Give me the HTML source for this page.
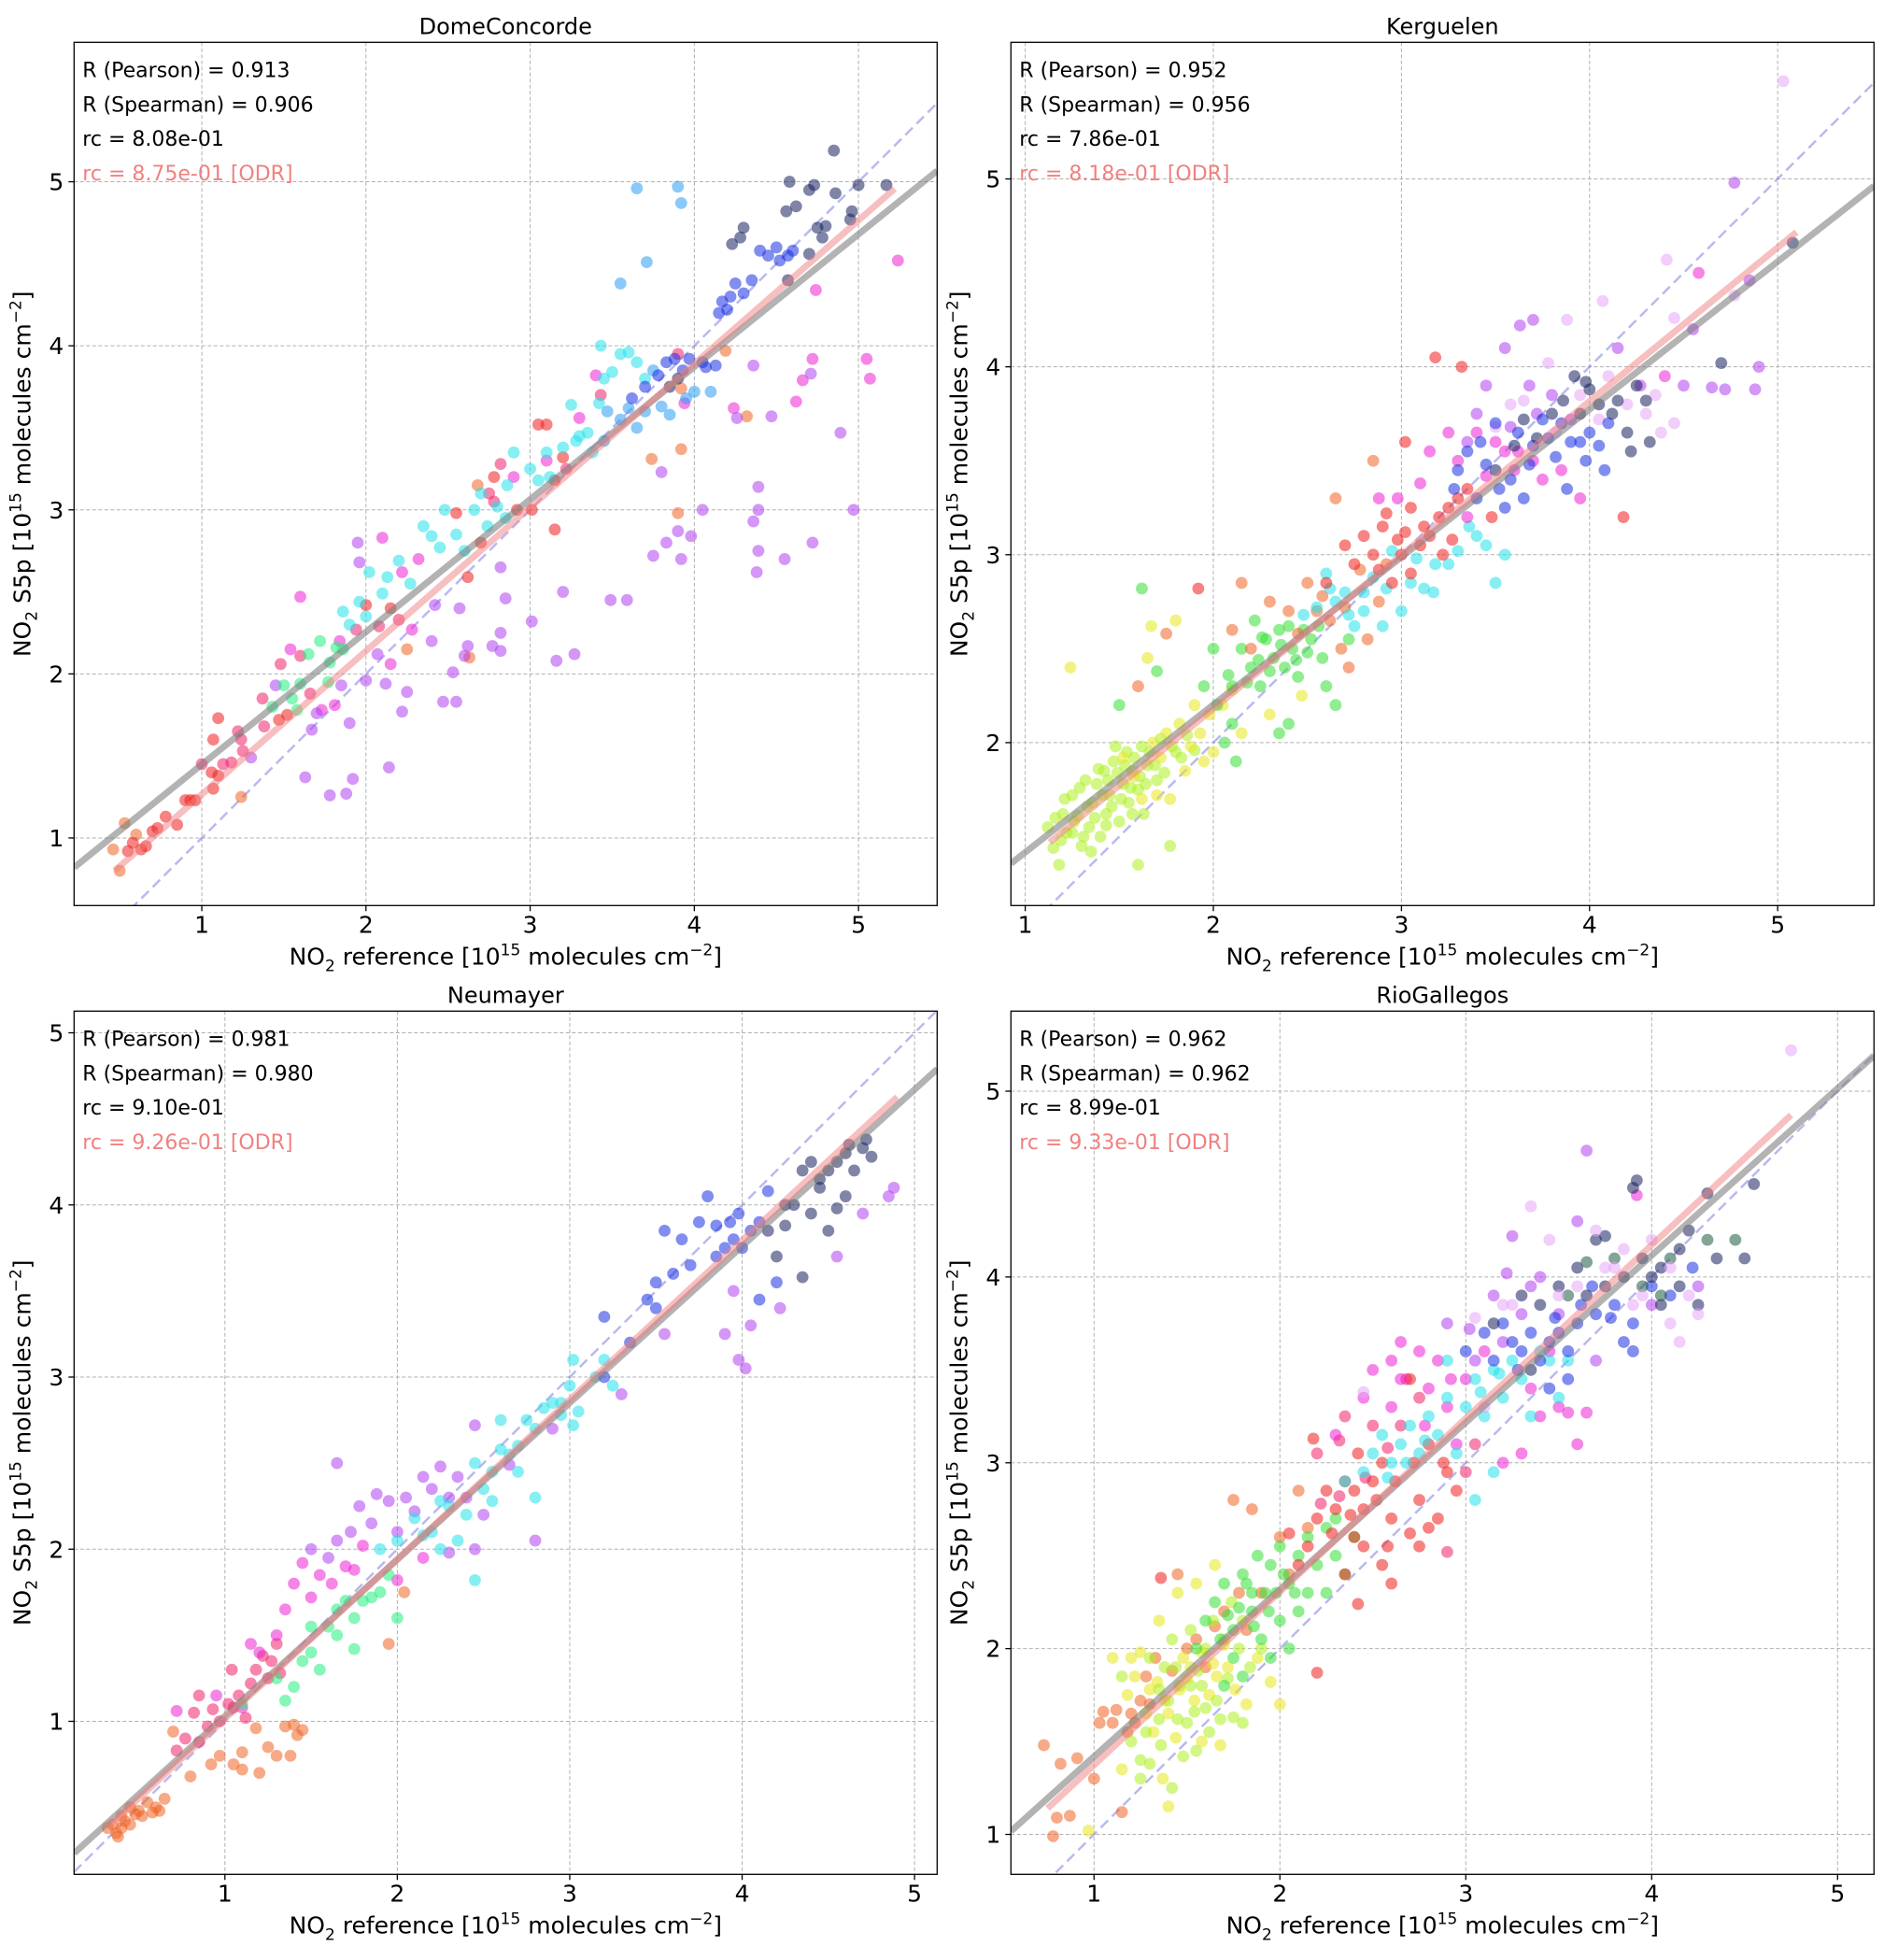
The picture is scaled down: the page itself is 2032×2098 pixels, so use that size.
<!DOCTYPE html>
<html><head><meta charset="utf-8"><title>NO2 S5p vs reference scatter</title>
<style>
html,body{margin:0;padding:0;background:#fff;}
svg{display:block;font-family:"DejaVu Sans","Liberation Sans",sans-serif;}
</style></head>
<body>
<svg id="fig" width="2032" height="2098" viewBox="0 0 2032 2098" xmlns="http://www.w3.org/2000/svg"></svg>
<script>
// ---------- Panel: DomeConcorde ----------
const dcTitle = "DomeConcorde";
const dcStats = ["R (Pearson) = 0.913","R (Spearman) = 0.906","rc = 8.08e-01","rc = 8.75e-01 [ODR]"];
const dcFit = [0.808, 0.64];
const dcOdr = [0.875, 0.39, 0.47, 5.22];
const dcOrange = [[0.46,0.93],[0.5,0.8],[0.53,1.09],[0.6,1.02],[1.24,1.25],[3.9,2.98],[3.92,3.37],[3.74,3.31],[3.92,3.74],[4.19,3.97],[4.32,3.57],[2.63,2.1],[2.25,2.15],[2.68,3.15]];
const dcRed = [[0.55,0.92],[0.58,0.97],[0.63,0.93],[0.66,0.95],[0.7,1.04],[0.73,1.06],[0.78,1.13],[0.85,1.08],[0.9,1.23],[0.93,1.23],[0.96,1.23],[1.07,1.3],[1.1,1.38],[1.06,1.4],[1.07,1.6],[1.1,1.73],[1.47,1.72],[1.52,1.75],[2.0,2.42],[2.15,2.4],[2.62,2.59],[2.55,2.98],[2.7,2.8],[2.78,3.2],[3.05,3.52],[3.1,3.52],[3.15,2.88],[3.2,3.32],[3.01,3.0],[3.15,3.18],[2.92,3.0]];
const dcCrimson = [[1.0,1.45],[1.13,1.45],[1.18,1.46],[1.22,1.65],[1.24,1.6],[1.25,1.53],[1.37,1.85],[1.38,1.68],[1.48,2.06],[1.6,2.11],[1.66,1.88],[1.94,2.27],[2.08,2.29],[2.2,2.33],[2.75,3.1],[2.78,3.05],[3.22,3.25],[3.43,3.7],[3.9,3.95],[2.82,3.28]];
const dcMagenta = [[1.6,2.47],[1.54,2.15],[1.73,1.78],[1.81,1.81],[1.84,2.2],[2.1,2.83],[2.15,2.06],[2.32,2.7],[2.22,2.62],[2.9,3.2],[3.4,3.82],[3.94,3.65],[3.1,3.3],[4.74,4.34],[5.24,4.52],[4.24,3.62],[4.62,3.66],[4.66,3.79],[4.72,3.92],[5.05,3.92],[5.07,3.8],[3.3,3.56],[2.28,2.27]];
const dcViolet = [[1.3,1.49],[1.45,1.93],[1.63,1.37],[1.67,1.66],[1.7,1.76],[1.78,1.26],[1.85,1.93],[1.9,1.7],[1.88,1.27],[1.92,1.36],[1.95,2.8],[1.96,2.68],[2.0,1.96],[2.07,2.12],[2.12,1.94],[2.14,1.43],[2.22,1.77],[2.25,1.89],[2.4,2.2],[2.42,2.42],[2.47,1.83],[2.53,2.01],[2.55,1.83],[2.57,2.4],[2.6,2.11],[2.62,2.17],[2.77,2.17],[2.82,2.14],[2.82,2.25],[2.85,2.46],[2.82,2.65],[3.01,2.32],[3.16,2.08],[3.2,2.5],[3.27,2.12],[3.49,2.45],[3.59,2.45],[3.75,2.72],[3.8,3.23],[3.83,2.8],[3.9,2.87],[3.92,2.7],[3.98,2.84],[4.05,3.0],[4.36,3.88],[4.36,2.93],[4.39,3.14],[4.39,2.75],[4.39,3.0],[4.38,2.62],[4.47,3.57],[4.55,2.7],[4.71,3.83],[4.72,2.8],[4.89,3.47],[4.97,3.0],[4.26,3.56]];
const dcGreen = [[1.5,1.93],[1.55,1.85],[1.6,1.94],[1.65,2.12],[1.72,2.2],[1.78,2.07],[1.82,2.16],[1.77,1.95],[1.43,1.8],[1.58,1.78],[1.86,2.15]];
const dcCyan = [[1.86,2.38],[1.9,2.3],[1.96,2.44],[2.0,2.35],[2.02,2.62],[2.1,2.49],[2.13,2.59],[2.2,2.69],[2.27,2.55],[2.35,2.9],[2.4,2.84],[2.45,2.77],[2.48,3.0],[2.55,2.85],[2.6,2.75],[2.66,3.0],[2.7,3.1],[2.74,2.9],[2.8,3.02],[2.86,3.15],[2.9,3.35],[3.0,3.25],[3.05,3.18],[3.1,3.35],[3.2,3.38],[3.25,3.64],[3.28,3.42],[3.3,3.45],[3.35,3.47],[3.42,3.65],[3.45,3.8],[3.5,3.84],[3.55,3.95],[3.6,3.96],[3.65,3.9],[3.43,4.0],[3.7,3.8],[2.85,2.95],[3.12,3.2],[3.38,3.35]];
const dcSky = [[3.55,4.38],[3.65,4.96],[3.71,4.51],[3.9,4.97],[3.92,4.87],[3.47,3.6],[3.55,3.55],[3.6,3.62],[3.65,3.5],[3.7,3.6],[3.75,3.85],[3.8,3.63],[3.85,3.58],[3.95,3.68],[4.0,3.72],[4.1,3.72],[3.45,3.42]];
const dcBlue = [[3.62,3.68],[3.7,3.75],[3.78,3.82],[3.83,3.9],[3.88,3.92],[3.93,3.85],[3.97,3.92],[4.05,3.9],[4.13,3.88],[4.15,4.2],[4.17,4.27],[4.2,4.22],[4.22,4.3],[4.25,4.38],[4.3,4.32],[4.35,4.4],[4.4,4.58],[4.45,4.55],[4.5,4.6],[4.52,4.52],[4.57,4.55],[4.6,4.58],[4.07,3.87]];
const dcNavy = [[3.85,3.75],[3.9,3.8],[4.23,4.62],[4.28,4.66],[4.3,4.72],[4.56,4.82],[4.58,5.0],[4.62,4.85],[4.7,4.56],[4.7,4.95],[4.73,4.98],[4.75,4.72],[4.78,4.66],[4.8,4.73],[4.86,4.93],[4.85,5.19],[4.96,4.82],[4.95,4.77],[5.0,4.98],[5.17,4.98],[4.57,4.4]];

// ---------- Panel: Kerguelen ----------
const kgTitle = "Kerguelen";
const kgStats = ["R (Pearson) = 0.952","R (Spearman) = 0.956","rc = 7.86e-01","rc = 8.18e-01 [ODR]"];
const kgFit = [0.786, 0.63];
const kgOdr = [0.818, 0.545, 1.13, 5.1];
const kgLime = [[1.12,1.55],[1.15,1.44],[1.18,1.35],[1.2,1.62],[1.22,1.52],[1.25,1.72],[1.28,1.61],[1.3,1.45],[1.32,1.8],[1.34,1.55],[1.36,1.68],[1.38,1.78],[1.4,1.5],[1.42,1.85],[1.43,1.62],[1.45,1.72],[1.47,1.9],[1.5,1.58],[1.52,1.78],[1.54,1.95],[1.55,1.68],[1.57,1.85],[1.6,1.75],[1.62,1.98],[1.63,1.62],[1.65,1.88],[1.35,1.42],[1.6,1.35],[1.77,1.45],[1.48,1.98],[1.7,1.8],[1.8,1.95]];
const kgLime2 = [[1.16,1.6],[1.21,1.7],[1.26,1.58],[1.29,1.76],[1.33,1.66],[1.37,1.6],[1.39,1.86],[1.41,1.72],[1.44,1.8],[1.46,1.66],[1.49,1.84],[1.51,1.7],[1.53,1.88],[1.56,1.76],[1.58,1.92],[1.61,1.82],[1.64,1.78],[1.66,1.95],[1.69,1.88],[1.72,2.02],[1.74,1.84],[1.78,1.98],[1.83,1.92],[1.86,2.04],[1.9,1.96],[1.25,1.52],[1.31,1.5],[1.19,1.48],[1.43,1.56],[1.57,1.62]];
const kgYellow = [[1.68,2.0],[1.72,1.92],[1.75,2.05],[1.77,1.7],[1.82,2.1],[1.85,1.85],[1.88,1.98],[1.9,2.2],[1.93,2.05],[1.95,1.9],[1.98,2.15],[2.0,1.95],[2.05,2.2],[1.24,2.4],[1.65,2.45],[1.67,2.62],[1.8,2.65],[2.15,2.05],[2.3,2.15],[2.47,2.25],[1.52,1.92],[1.58,1.82],[1.7,1.72],[1.62,1.7],[2.1,2.28]];
const kgGreen = [[2.1,2.1],[2.12,1.9],[1.62,2.82],[1.5,2.2],[1.7,2.38],[2.1,2.3],[2.15,2.5],[2.2,2.4],[2.22,2.65],[2.25,2.3],[2.28,2.55],[2.32,2.45],[2.35,2.6],[2.38,2.4],[2.42,2.5],[2.45,2.35],[2.48,2.6],[2.52,2.55],[2.58,2.45],[2.6,2.3],[2.65,2.2],[2.02,2.2],[2.06,2.0],[2.0,2.5],[2.35,2.05],[2.4,2.1],[2.72,2.55],[2.18,2.32],[2.24,2.44],[2.3,2.38],[2.36,2.52],[2.44,2.44],[2.5,2.48],[2.56,2.62],[2.08,2.36],[1.95,2.3],[2.26,2.56],[2.4,2.62]];
const kgOrange = [[1.75,2.58],[1.6,2.3],[2.3,2.75],[2.4,2.7],[2.5,2.85],[2.55,2.7],[2.62,2.65],[2.68,2.5],[2.72,2.4],[2.78,2.92],[2.82,2.55],[2.88,2.75],[2.92,2.95],[2.1,2.6],[2.15,2.85],[2.65,3.3],[2.85,3.5],[2.2,2.5],[2.45,2.58],[2.58,2.78],[2.7,2.72]];
const kgCyan = [[2.6,2.9],[2.65,2.75],[2.7,2.8],[2.75,2.62],[2.8,2.7],[2.85,2.88],[2.9,2.62],[2.8,2.8],[3.0,2.7],[3.05,2.85],[3.17,2.8],[3.25,2.95],[3.4,3.1],[3.45,3.05],[3.5,2.85],[3.55,3.0],[3.18,2.95],[3.12,2.82],[2.55,2.72],[2.62,2.82],[2.72,2.68],[2.92,2.82],[3.08,2.98],[3.3,3.02],[3.36,3.15],[2.48,2.68],[2.95,3.02]];
const kgRed = [[1.92,2.82],[2.7,3.05],[2.8,3.1],[2.85,3.0],[2.9,3.15],[2.95,2.85],[3.0,3.0],[3.02,3.12],[3.05,2.9],[3.1,3.05],[3.15,3.1],[3.2,3.2],[3.22,3.0],[3.25,3.25],[3.27,3.08],[3.3,3.3],[3.02,3.6],[3.48,3.2],[3.05,3.25],[4.18,3.2],[3.18,4.05],[3.32,4.0],[2.75,2.95],[2.88,2.92],[2.98,3.08],[3.12,3.15],[2.6,2.85],[3.35,3.35],[2.92,3.22]];
const kgMagenta = [[2.88,3.3],[2.98,3.3],[3.1,3.38],[3.35,3.2],[3.15,3.55],[3.25,3.65],[3.4,3.65],[3.6,3.45],[3.75,3.4],[3.95,3.3],[3.55,3.55],[3.45,3.42],[4.4,3.95],[4.58,4.5],[3.5,3.6],[3.7,3.5],[3.85,3.45],[3.3,3.5],[3.62,3.55]];
const kgViolet = [[3.55,4.1],[3.63,4.22],[3.7,4.25],[3.45,3.9],[3.68,3.9],[3.72,3.75],[3.8,3.85],[4.5,3.9],[4.55,4.2],[4.77,4.98],[4.85,4.46],[4.9,4.0],[4.88,3.88],[4.72,3.88],[4.65,3.89],[4.27,3.9],[4.15,4.1],[3.4,3.75],[3.58,3.68],[3.9,3.72],[3.35,3.6]];
const kgPale = [[5.03,5.52],[4.41,4.57],[4.45,4.26],[4.35,3.85],[4.3,3.75],[3.88,4.25],[3.78,4.02],[3.58,3.8],[4.45,3.7],[4.77,4.38],[4.07,4.35],[3.65,3.82],[3.95,3.85],[4.05,3.72],[4.2,3.8],[4.1,3.95],[3.82,3.65],[3.5,3.68],[4.38,3.65]];
const kgBlue = [[3.3,3.45],[3.35,3.55],[3.4,3.3],[3.42,3.6],[3.5,3.7],[3.52,3.35],[3.62,3.65],[3.65,3.3],[3.7,3.58],[3.78,3.62],[3.82,3.52],[3.85,3.7],[3.88,3.35],[3.9,3.6],[3.98,3.5],[4.0,3.65],[4.08,3.45],[4.1,3.7],[3.45,3.48],[3.58,3.4],[3.68,3.48],[3.75,3.72],[3.95,3.6],[4.05,3.58],[3.28,3.35],[3.55,3.25]];
const kgNavy = [[3.92,3.95],[3.95,3.75],[4.05,3.8],[4.15,3.82],[4.2,3.65],[4.25,3.9],[4.22,3.55],[4.32,3.6],[5.08,4.66],[4.7,4.02],[3.6,3.58],[3.72,3.62],[3.8,3.75],[3.86,3.82],[4.0,3.88],[4.12,3.75],[3.5,3.45],[3.65,3.72],[4.3,3.82],[3.98,3.92]];

// ---------- Panel: Neumayer ----------
const nmTitle = "Neumayer";
const nmStats = ["R (Pearson) = 0.981","R (Spearman) = 0.980","rc = 9.10e-01","rc = 9.26e-01 [ODR]"];
const nmFit = [0.91, 0.12];
const nmOdr = [0.926, 0.09, 0.32, 4.9];
const nmOrange = [[0.32,0.38],[0.35,0.4],[0.38,0.33],[0.4,0.38],[0.42,0.42],[0.45,0.5],[0.48,0.46],[0.5,0.48],[0.52,0.45],[0.55,0.53],[0.58,0.47],[0.6,0.5],[0.62,0.48],[0.65,0.55],[0.4,0.45],[0.45,0.4],[0.37,0.35],[0.7,0.94],[0.8,0.68],[1.1,0.82],[1.18,0.96],[1.25,0.85],[1.1,0.72],[1.2,0.7],[1.35,0.97],[1.4,0.98],[1.42,0.92],[1.3,0.8],[1.38,0.8],[1.45,0.95],[0.97,0.8],[1.05,0.75],[0.92,0.75],[1.95,1.45],[2.04,1.75]];
const nmRed = [[0.72,0.83],[0.77,0.9],[0.82,1.05],[0.85,0.88],[0.9,0.97],[0.93,1.07],[0.97,1.0],[1.02,1.1],[1.05,1.08],[1.08,1.15],[1.12,1.02],[1.15,1.22],[1.18,1.3],[1.22,1.38],[1.25,1.25],[1.27,1.35],[1.3,1.45],[1.32,1.28],[0.85,1.15],[1.04,1.3]];
const nmMagenta = [[0.72,1.06],[0.95,1.15],[1.1,1.08],[1.15,1.45],[1.2,1.4],[1.3,1.5],[1.35,1.65],[1.4,1.8],[1.45,1.92],[1.5,1.72],[1.55,1.85],[1.62,1.8],[1.7,1.9],[1.75,1.88],[1.8,2.02],[2.0,1.82],[2.15,1.95]];
const nmViolet = [[1.5,2.0],[1.6,1.95],[1.65,2.05],[1.73,2.1],[1.78,2.25],[1.85,2.15],[1.88,2.32],[1.95,2.28],[2.0,2.1],[2.05,2.3],[2.1,2.22],[2.15,2.42],[2.2,2.35],[2.25,2.48],[2.3,2.3],[2.35,2.42],[2.4,2.3],[2.45,2.72],[2.5,2.2],[2.65,2.49],[2.9,2.7],[2.8,2.05],[2.45,2.0],[2.3,1.98],[3.3,2.9],[3.55,3.25],[3.9,3.25],[3.95,3.5],[3.98,3.1],[4.02,3.05],[4.05,3.3],[4.22,3.4],[4.55,3.7],[4.7,3.95],[4.85,4.05],[4.88,4.1],[1.65,2.5]];
const nmGreen = [[1.35,1.12],[1.45,1.35],[1.5,1.55],[1.55,1.3],[1.6,1.55],[1.65,1.65],[1.7,1.7],[1.75,1.6],[1.8,1.7],[1.85,1.72],[1.9,1.75],[1.95,1.85],[2.0,1.6],[1.3,1.25],[1.4,1.2],[1.5,1.4],[1.65,1.5],[1.75,1.42],[1.1,1.1]];
const nmCyan = [[1.9,2.0],[2.0,2.05],[2.1,2.18],[2.15,2.08],[2.2,2.1],[2.25,2.0],[2.3,2.25],[2.35,2.05],[2.4,2.2],[2.45,2.5],[2.5,2.35],[2.55,2.45],[2.6,2.58],[2.65,2.55],[2.7,2.6],[2.75,2.75],[2.8,2.7],[2.85,2.82],[2.9,2.85],[2.95,2.78],[3.0,2.95],[3.02,2.72],[3.05,2.8],[2.45,1.82],[2.6,2.75],[2.7,2.45],[2.8,2.3],[2.95,2.85],[3.02,3.1],[3.15,3.0],[3.2,3.1],[3.25,2.95],[2.55,2.28],[2.25,2.28]];
const nmBlue = [[3.2,3.0],[3.35,3.2],[3.45,3.45],[3.5,3.55],[3.55,3.85],[3.6,3.6],[3.65,3.8],[3.7,3.65],[3.75,3.9],[3.8,4.05],[3.85,3.7],[3.9,3.75],[3.95,3.8],[4.0,3.75],[4.05,3.85],[4.1,3.9],[3.98,3.95],[3.93,3.9],[4.15,4.08],[3.2,3.35],[3.5,3.4],[3.85,3.88],[4.1,3.45],[4.2,3.55]];
const nmNavy = [[4.15,3.85],[4.2,3.7],[4.25,3.88],[4.3,4.0],[4.35,3.58],[4.4,3.95],[4.45,4.1],[4.5,4.2],[4.55,4.25],[4.6,4.3],[4.62,4.35],[4.65,4.2],[4.7,4.33],[4.72,4.38],[4.75,4.28],[4.35,4.2],[4.4,4.25],[4.45,4.15],[4.5,3.85],[4.55,3.98],[4.6,4.05],[4.25,4.0]];

// ---------- Panel: RioGallegos ----------
const rgTitle = "RioGallegos";
const rgStats = ["R (Pearson) = 0.962","R (Spearman) = 0.962","rc = 8.99e-01","rc = 9.33e-01 [ODR]"];
const rgFit = [0.899, 0.52];
const rgOdr = [0.933, 0.44, 0.75, 4.75];
const rgOrange = [[0.73,1.48],[0.78,0.99],[0.8,1.09],[0.82,1.38],[0.87,1.1],[0.91,1.41],[1.0,1.3],[1.03,1.6],[1.05,1.66],[1.1,1.6],[1.12,1.67],[1.15,1.12],[1.18,1.55],[1.2,1.65],[1.25,1.72],[1.28,1.85],[1.33,1.95],[1.45,2.4],[1.75,2.8],[1.85,2.75],[1.82,2.1],[1.9,2.3],[2.0,2.6],[2.05,2.4],[2.1,2.85],[2.15,2.65],[1.6,1.9],[1.5,2.0],[1.7,2.2],[1.3,1.7],[1.42,1.88],[1.55,2.05],[1.65,2.12],[1.78,2.3],[1.22,1.6]];
const rgYellow = [[1.1,1.95],[1.15,1.35],[1.18,1.75],[1.22,1.85],[1.28,1.65],[1.32,1.55],[1.37,1.3],[1.4,1.65],[1.44,1.52],[1.48,1.95],[1.54,1.72],[1.58,1.5],[1.62,1.75],[1.66,1.85],[1.72,1.9],[1.76,1.78],[1.82,1.7],[1.88,1.95],[1.95,1.82],[2.0,1.7],[1.35,2.15],[1.45,2.3],[1.55,2.35],[1.65,2.45],[1.2,1.95],[0.97,1.02],[1.25,1.98],[1.4,1.15],[1.68,1.48],[1.34,1.82],[1.46,1.78],[1.52,1.9],[1.58,1.98],[1.64,1.92],[1.7,2.02],[1.38,1.72],[1.3,1.78],[1.5,1.84]];
const rgLime = [[1.2,1.5],[1.25,1.4],[1.3,1.95],[1.35,1.78],[1.38,1.9],[1.42,2.05],[1.46,1.8],[1.5,1.6],[1.52,2.1],[1.56,1.88],[1.6,2.0],[1.64,2.15],[1.68,1.62],[1.7,2.05],[1.74,2.25],[1.78,2.0],[1.8,2.15],[1.42,1.25],[1.3,1.38],[1.25,1.3],[1.55,1.45],[1.62,1.55],[1.75,1.63],[1.8,1.6],[1.15,1.85],[1.45,1.62],[1.52,1.8],[1.6,1.68],[1.35,1.62],[1.48,1.42],[1.28,1.55],[1.4,1.72],[1.54,1.66],[1.58,1.8],[1.66,1.72],[1.72,1.84],[1.84,1.9],[1.9,2.0],[1.44,1.9],[1.36,1.48]];
const rgGreen = [[1.55,2.0],[1.6,2.15],[1.65,2.25],[1.7,2.35],[1.75,2.1],[1.8,2.4],[1.85,2.2],[1.88,2.5],[1.92,2.3],[1.95,2.45],[2.0,2.55],[2.05,2.35],[2.1,2.5],[2.15,2.6],[2.2,2.45],[2.25,2.65],[2.3,2.5],[2.35,2.4],[2.4,2.6],[1.9,2.05],[2.0,2.15],[2.1,2.2],[2.15,2.3],[1.75,1.95],[1.8,1.85],[2.25,2.3],[2.3,2.7],[1.95,1.95],[2.05,2.0],[1.7,1.8],[1.85,2.3],[1.98,2.3],[1.72,2.18],[1.78,2.22],[1.86,2.12],[1.94,2.2],[2.02,2.4],[2.08,2.3],[1.68,2.05],[1.82,2.35]];
const rgRed = [[1.36,2.38],[2.18,3.13],[2.2,1.87],[2.05,2.62],[2.1,2.45],[2.2,2.7],[2.25,2.85],[2.3,2.75],[2.35,2.9],[2.4,2.6],[2.42,3.05],[2.45,2.75],[2.5,2.9],[2.55,3.0],[2.6,2.7],[2.7,3.45],[2.72,3.0],[2.75,2.8],[2.8,3.1],[2.85,2.7],[2.9,2.95],[2.95,2.85],[2.58,2.55],[2.7,2.62],[2.8,2.65],[2.35,2.4],[2.45,2.55],[2.6,2.35],[2.42,2.24],[2.88,3.0],[2.4,2.85],[2.55,2.45],[2.75,2.55],[2.15,2.55],[2.28,2.62],[2.38,2.72],[2.52,2.8],[2.62,2.9]];
const rgCrimson = [[2.65,3.2],[2.9,2.52],[2.32,3.12],[2.5,3.2],[2.68,3.45],[2.35,3.25],[2.2,3.05],[3.0,2.95],[3.05,3.1],[2.75,3.35],[2.32,2.82],[2.46,2.92],[2.58,3.08],[2.22,2.78]];
const rgMagenta = [[2.3,3.15],[2.45,3.35],[2.5,3.5],[2.6,3.3],[2.65,3.45],[2.75,3.6],[2.8,3.4],[2.85,3.55],[2.9,3.3],[3.0,3.45],[3.1,3.6],[3.2,3.0],[3.3,3.05],[3.4,3.25],[3.5,3.3],[3.6,3.1],[3.55,3.27],[3.65,3.27],[2.95,3.1],[2.6,3.55],[2.65,3.65],[3.92,4.44],[2.78,3.2],[2.92,3.45],[3.35,3.4],[3.45,3.6]];
const rgViolet = [[2.9,3.75],[3.02,3.72],[3.15,3.9],[3.22,4.02],[3.3,3.8],[3.35,3.95],[3.5,3.8],[3.4,4.0],[3.65,4.68],[4.0,3.85],[4.25,3.95],[3.6,4.3],[3.25,4.22],[3.05,3.55],[3.2,3.65],[3.7,3.55]];
const rgCyan = [[2.45,2.95],[2.5,3.05],[2.55,3.15],[2.6,3.0],[2.65,3.1],[2.7,3.2],[2.75,3.05],[2.8,3.25],[2.85,3.15],[2.9,3.35],[2.95,3.05],[3.0,3.3],[3.05,3.45],[3.1,3.25],[3.15,3.5],[3.2,3.35],[3.25,3.55],[3.3,3.45],[2.35,2.9],[3.05,2.8],[3.15,2.95],[3.35,3.25],[3.45,3.55],[3.5,3.35],[2.9,3.55],[2.58,2.92],[2.68,3.0],[2.78,3.12],[3.08,3.38],[3.18,3.48],[3.4,3.6],[3.55,3.55]];
const rgBlue = [[3.0,3.6],[3.1,3.7],[3.15,3.55],[3.2,3.75],[3.25,3.65],[3.3,3.6],[3.35,3.7],[3.4,3.55],[3.45,3.65],[3.5,3.7],[3.55,3.6],[3.6,3.75],[3.7,3.8],[3.8,3.85],[3.9,3.75],[4.0,3.95],[4.1,3.9],[3.55,3.45],[3.45,3.4],[3.85,3.65],[3.9,3.6],[4.22,4.05],[3.62,3.85],[3.68,3.95],[3.78,3.78],[3.48,3.78],[3.28,3.5]];
const rgNavy = [[3.65,3.9],[3.75,3.95],[3.85,4.0],[3.95,4.1],[4.05,4.05],[4.15,4.15],[4.2,4.25],[4.25,3.85],[4.3,4.45],[4.35,4.1],[3.92,4.52],[3.9,4.48],[4.55,4.5],[4.5,4.1],[3.5,3.95],[3.4,3.85],[3.6,4.05],[3.7,4.2],[3.75,4.22],[4.0,4.0],[4.05,3.85],[4.15,3.95],[3.3,3.9],[3.15,3.75],[3.35,3.5]];
const rgDark = [[3.8,4.1],[3.95,3.95],[4.05,3.9],[4.3,4.2],[4.45,4.2],[3.65,4.08],[3.55,3.9],[4.1,4.1]];
const rgPale = [[3.5,3.9],[3.6,3.95],[3.7,4.25],[3.8,4.05],[3.9,3.85],[4.0,4.2],[4.1,4.05],[4.2,3.9],[4.25,3.8],[4.15,3.65],[3.45,4.2],[3.75,4.05],[4.1,3.75],[4.75,5.22],[3.1,3.3],[3.25,3.85],[3.35,4.38],[2.45,3.38],[3.85,4.15],[3.95,3.9],[3.05,3.78],[3.2,3.85]];

const xTicks = [1,2,3,4,5];
const yTicksA = [1,2,3,4,5];
const yTicksB = [2,3,4,5];

const COLORS = {o:"#f06424",r:"#f01e1e",p:"#f0206a",m:"#ee20d6",v:"#b040f0",s:"#22ee80",c:"#22e2ea",k:"#2a9cf2",b:"#1a30e2",n:"#18215e",d:"#1d5b40",l:"#aef020",y:"#e8e81c",g:"#34e034",w:"#e6a6f8"};

const panels = [
  {id:"domeconcorde",title:dcTitle,stats:dcStats,fit:dcFit,odr:dcOdr,L:79.3,T:45.3,xr:[0.222,5.479],yr:[0.588,5.850],yt:yTicksA,
   groups:[["o",dcOrange],["r",dcRed],["p",dcCrimson],["m",dcMagenta],["v",dcViolet],["s",dcGreen],["c",dcCyan],["k",dcSky],["b",dcBlue],["n",dcNavy]]},
  {id:"kerguelen",title:kgTitle,stats:kgStats,fit:kgFit,odr:kgOdr,L:1082.3,T:45.3,xr:[0.924,5.512],yr:[1.133,5.727],yt:yTicksB,
   groups:[["l",kgLime],["l",kgLime2],["y",kgYellow],["g",kgGreen],["o",kgOrange],["c",kgCyan],["r",kgRed],["m",kgMagenta],["v",kgViolet],["w",kgPale],["b",kgBlue],["n",kgNavy]]},
  {id:"neumayer",title:nmTitle,stats:nmStats,fit:nmFit,odr:nmOdr,L:79.3,T:1082.3,xr:[0.125,5.131],yr:[0.111,5.126],yt:yTicksA,
   groups:[["o",nmOrange],["p",nmRed],["m",nmMagenta],["v",nmViolet],["s",nmGreen],["c",nmCyan],["b",nmBlue],["n",nmNavy]]},
  {id:"riogallegos",title:rgTitle,stats:rgStats,fit:rgFit,odr:rgOdr,L:1082.3,T:1082.3,xr:[0.553,5.196],yr:[0.785,5.431],yt:yTicksA,
   groups:[["o",rgOrange],["y",rgYellow],["l",rgLime],["g",rgGreen],["r",rgRed],["p",rgCrimson],["m",rgMagenta],["v",rgViolet],["c",rgCyan],["b",rgBlue],["n",rgNavy],["d",rgDark],["w",rgPale]]}
];

const NS = "http://www.w3.org/2000/svg";
const svg = document.getElementById("fig");
const S = 924;
function mk(tag, attrs, parent){
  const e = document.createElementNS(NS, tag);
  for (const k in attrs) e.setAttribute(k, attrs[k]);
  parent.appendChild(e);
  return e;
}
function labelText(parent, x, y, rotate, main){
  const t = mk("text", {x:x, y:y, "font-size":"25", "text-anchor":"middle", fill:"#000"}, parent);
  if (rotate) t.setAttribute("transform", "rotate(-90 "+x+" "+y+")");
  const parts = [["NO",0,25],["2",7,17],[main+" [10",-7,25],["15",-10,17],[" molecules cm",10,25],["\u22122",-10,17],["]",10,25]];
  parts.forEach(function(p){
    const s = mk("tspan", {dy:p[1], "font-size":p[2]}, t);
    s.textContent = p[0];
  });
  return t;
}

panels.forEach(function(P, pi){
  const g = mk("g", {}, svg);
  
  
  const sx = function(v){ return P.L + (v - P.xr[0]) / (P.xr[1] - P.xr[0]) * S; };
  const sy = function(v){ return P.T + S - (v - P.yr[0]) / (P.yr[1] - P.yr[0]) * S; };
  const clipId = "clip" + pi;
  const cp = mk("clipPath", {id:clipId}, g);
  mk("rect", {x:P.L, y:P.T, width:S, height:S}, cp);

  const grid = mk("g", {stroke:"#b0b0b0", "stroke-width":"1", "stroke-dasharray":"4,2.5"}, g);
  
  
  xTicks.forEach(function(v){ mk("line", {x1:sx(v), x2:sx(v), y1:P.T, y2:P.T+S}, grid); });
  P.yt.forEach(function(v){ mk("line", {x1:P.L, x2:P.L+S, y1:sy(v), y2:sy(v)}, grid); });

  const plot = mk("g", {"clip-path":"url(#"+clipId+")"}, g);
  const idl = mk("line", {x1:sx(P.xr[0]), y1:sy(P.xr[0]), x2:sx(P.xr[1]), y2:sy(P.xr[1]), stroke:"#8080e0", "stroke-opacity":"0.55", "stroke-width":"2.5", "stroke-dasharray":"11,6"}, plot);
  
  

  const pts = mk("g", {}, plot);
  
  
  P.groups.forEach(function(gr){
    const col = COLORS[gr[0]];
    gr[1].forEach(function(pt){
      const c = mk("circle", {cx:sx(pt[0]), cy:sy(pt[1]), r:"6.4", fill:col, "fill-opacity":"0.55"}, pts);
      
      
    });
  });

  const fx0 = P.xr[0], fx1 = P.xr[1];
  const fl = mk("line", {x1:sx(fx0), y1:sy(P.fit[0]*fx0+P.fit[1]), x2:sx(fx1), y2:sy(P.fit[0]*fx1+P.fit[1]), stroke:"#808080", "stroke-opacity":"0.6", "stroke-width":"7"}, plot);
  
  
  const ol = mk("line", {x1:sx(P.odr[2]), y1:sy(P.odr[0]*P.odr[2]+P.odr[1]), x2:sx(P.odr[3]), y2:sy(P.odr[0]*P.odr[3]+P.odr[1]), stroke:"#f08080", "stroke-opacity":"0.5", "stroke-width":"7"}, plot);
  
  

  const fr = mk("rect", {x:P.L, y:P.T, width:S, height:S, fill:"none", stroke:"#000", "stroke-width":"1.3"}, g);
  
  

  const tk = mk("g", {"font-size":"25", fill:"#000"}, g);
  
  
  xTicks.forEach(function(v){
    mk("line", {x1:sx(v), x2:sx(v), y1:P.T+S, y2:P.T+S+6, stroke:"#000", "stroke-width":"1.3"}, tk);
    const t = mk("text", {x:sx(v), y:P.T+S+29, "text-anchor":"middle"}, tk);
    t.textContent = String(v);
  });
  P.yt.forEach(function(v){
    mk("line", {x1:P.L-6, x2:P.L, y1:sy(v), y2:sy(v), stroke:"#000", "stroke-width":"1.3"}, tk);
    const t = mk("text", {x:P.L-11, y:sy(v)+9, "text-anchor":"end"}, tk);
    t.textContent = String(v);
  });

  const ti = mk("text", {x:P.L+S/2, y:P.T-9, "text-anchor":"middle", "font-size":"24", fill:"#000"}, g);
  ti.textContent = P.title;
  
  

  const st = mk("g", {"font-size":"22"}, g);
  
  
  P.stats.forEach(function(s, i){
    const t = mk("text", {x:P.L+9, y:P.T+37.4+i*36.7, fill:(i===3?"#f08080":"#000")}, st);
    t.textContent = s;
  });

  const xl = labelText(g, P.L+S/2, P.T+S+63, false, " reference");
  
  
  const yl = labelText(g, P.L-47, P.T+S/2, true, " S5p");
  
  
});
</script>
</body></html>
